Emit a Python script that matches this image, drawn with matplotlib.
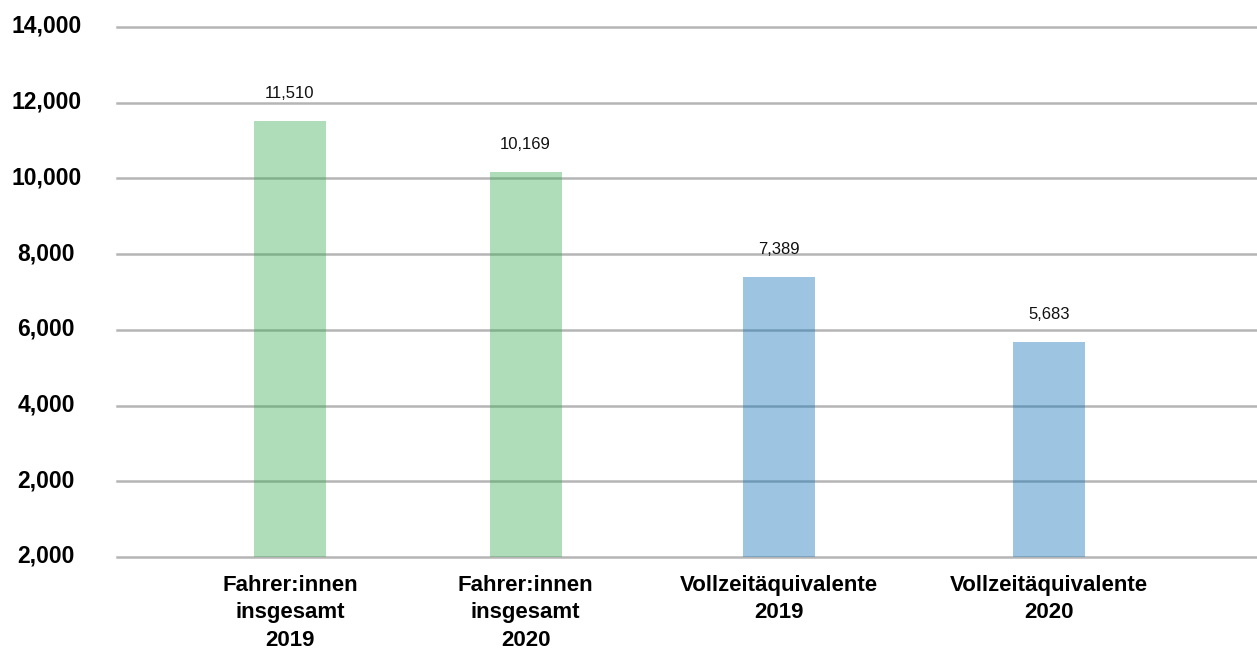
import matplotlib
matplotlib.use("Agg")
import matplotlib.pyplot as plt
import matplotlib.transforms as mtransforms

# data
categories = [
    "Fahrer:innen\ninsgesamt\n2019",
    "Fahrer:innen\ninsgesamt\n2020",
    "Vollzeitäquivalente\n2019",
    "Vollzeitäquivalente\n2020",
]
values = [11510, 10169, 7389, 5683]
value_labels = ["11,510", "10,169", "7,389", "5,683"]
y_ticks = [0, 2000, 4000, 6000, 8000, 10000, 12000, 14000]
y_tick_labels = ["2,000", "2,000", "4,000", "6,000", "8,000", "10,000", "12,000", "14,000"]

# layout (pixel-based x positions inside the axes)
x_pos = [173, 408.5, 662, 932]
bar_width = 72
bar_colors = ["#39aa50", "#39aa50", "#0a70b6", "#0a70b6"]

plt.rcParams["font.family"] = ["Liberation Sans", "DejaVu Sans"]

fig = plt.figure(figsize=(12.57, 6.5), dpi=100)
ax = fig.add_axes([117 / 1257, 93 / 650, 1 - 117 / 1257, (557 - 27) / 650])

# grid lines underneath semi-transparent bars
ax.set_axisbelow(True)
ax.yaxis.grid(True, color="#b5b5b5", linewidth=1.8)

ax.bar(x_pos, values, width=bar_width, color=bar_colors, alpha=0.4, zorder=3)

for x, v, lab in zip(x_pos, values, value_labels):
    ax.annotate(lab, (x, v), xytext=(0, 20), textcoords="offset points",
                ha="center", va="center", fontsize=12, color="#111111")

ax.set_xlim(0, 1140)
ax.set_ylim(0, 14000)

ax.set_yticks(y_ticks)
ax.set_yticklabels(y_tick_labels, fontsize=16.5, fontweight="bold", ha="center")
ax.tick_params(axis="y", length=0, pad=51)
shift_up = mtransforms.ScaledTranslation(0, 3 / 100, fig.dpi_scale_trans)
for lab in ax.get_yticklabels():
    lab.set_transform(lab.get_transform() + shift_up)
for gl in ax.get_ygridlines():
    gl.set_clip_on(False)

ax.set_xticks(x_pos)
ax.set_xticklabels(categories, fontsize=16, fontweight="bold", linespacing=1.4)
ax.tick_params(axis="x", length=0, pad=13)

for s in ax.spines.values():
    s.set_visible(False)

fig.savefig("out.png", dpi=100)
